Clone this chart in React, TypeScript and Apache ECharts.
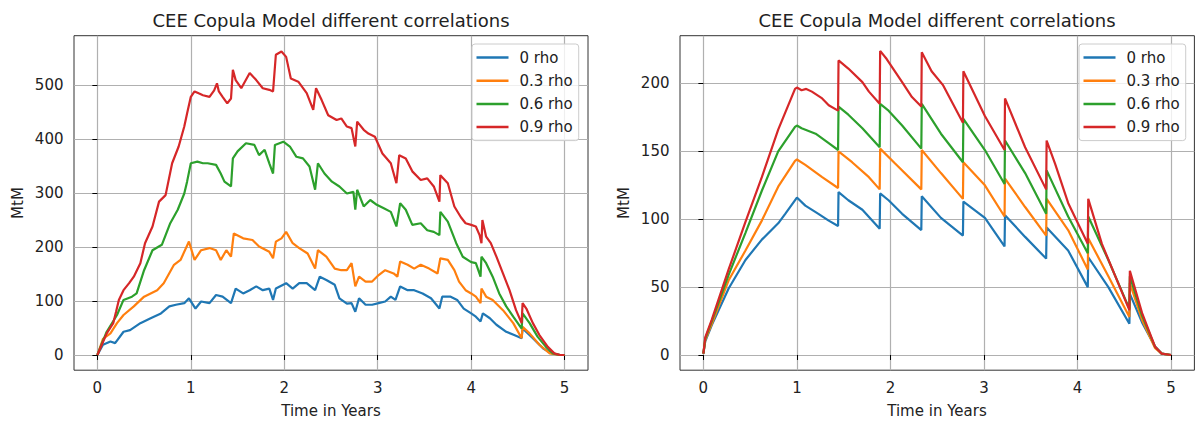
import React, { useEffect, useRef } from "react";
import * as echarts from "echarts";

const FONT = "DejaVu Sans";
const TITLE = "CEE Copula Model different correlations";
const seriesNames = ["0 rho", "0.3 rho", "0.6 rho", "0.9 rho"];
const colors = ["#1f77b4", "#ff7f0e", "#2ca02c", "#d62728"];
const xTicks = [0, 1, 2, 3, 4, 5];
const leftYTicks = [0, 100, 200, 300, 400, 500];
const rightYTicks = [0, 50, 100, 150, 200];

// Left panel (noisy paths)
const left0: number[][] = [[0,0],[0.06,19],[0.14,25],[0.19,22],[0.28,43],[0.35,46],[0.46,59],[0.57,68],[0.68,77],[0.77,90],[0.84,93],[0.93,96],[0.98,105],[1.05,86],[1.11,99],[1.2,96],[1.27,111],[1.34,108],[1.43,96],[1.48,123],[1.56,114],[1.63,120],[1.7,127],[1.77,120],[1.84,123],[1.88,102],[1.91,123],[2.02,133],[2.09,123],[2.16,133],[2.24,133],[2.33,120],[2.38,145],[2.45,139],[2.54,130],[2.59,105],[2.67,95],[2.72,96],[2.76,80],[2.8,105],[2.87,93],[2.94,93],[3.01,96],[3.08,99],[3.14,108],[3.19,102],[3.24,127],[3.32,120],[3.39,120],[3.48,114],[3.57,105],[3.66,86],[3.69,108],[3.78,108],[3.85,102],[3.92,86],[4.0,77],[4.05,71],[4.1,62],[4.125,77],[4.2,68],[4.27,56],[4.375,43],[4.46,37],[4.54,31],[4.55,49],[4.66,31],[4.77,12],[4.86,3],[4.95,0],[5,0]];
const left3: number[][] = [[0,0],[0.06,30],[0.14,40],[0.21,59],[0.28,74],[0.39,90],[0.5,108],[0.64,120],[0.71,133],[0.82,167],[0.89,176],[0.98,210],[1.04,176],[1.11,194],[1.2,198],[1.27,194],[1.32,176],[1.38,194],[1.43,182],[1.46,225],[1.56,216],[1.66,213],[1.73,201],[1.84,191],[1.88,179],[1.91,210],[1.97,216],[2.02,228],[2.09,207],[2.16,198],[2.25,188],[2.33,160],[2.36,194],[2.45,182],[2.54,160],[2.61,157],[2.67,157],[2.72,170],[2.76,127],[2.8,145],[2.87,136],[2.94,136],[3.01,148],[3.08,157],[3.17,151],[3.21,145],[3.24,173],[3.32,167],[3.39,160],[3.46,167],[3.55,160],[3.64,151],[3.67,179],[3.75,176],[3.82,157],[3.87,136],[3.94,120],[4.0,114],[4.05,108],[4.1,96],[4.11,123],[4.16,108],[4.23,102],[4.34,83],[4.45,59],[4.54,31],[4.55,52],[4.625,40],[4.73,19],[4.84,3],[4.95,0],[5,0]];
const left6: number[][] = [[0,0],[0.05,22],[0.1,43],[0.21,74],[0.28,102],[0.37,108],[0.42,114],[0.5,157],[0.59,194],[0.69,204],[0.78,244],[0.86,269],[0.93,299],[0.96,321],[1.0,355],[1.07,358],[1.13,355],[1.18,355],[1.27,352],[1.32,336],[1.36,321],[1.43,312],[1.45,364],[1.5,377],[1.59,392],[1.68,389],[1.73,370],[1.79,380],[1.84,355],[1.88,336],[1.9,389],[1.99,395],[2.06,386],[2.13,367],[2.2,364],[2.27,349],[2.33,306],[2.36,355],[2.43,336],[2.51,321],[2.59,312],[2.67,299],[2.74,302],[2.76,269],[2.78,306],[2.85,275],[2.92,287],[2.99,278],[3.06,272],[3.14,265],[3.2,238],[3.24,281],[3.3,269],[3.37,241],[3.46,244],[3.53,231],[3.6,228],[3.66,222],[3.67,265],[3.75,247],[3.84,207],[3.91,182],[4.0,172],[4.05,170],[4.1,145],[4.11,182],[4.16,170],[4.23,145],[4.3,114],[4.375,90],[4.45,71],[4.54,49],[4.55,77],[4.625,59],[4.71,34],[4.8,15],[4.875,3],[4.95,0],[5,0]];
const left9: number[][] = [[0,0],[0.05,20],[0.1,40],[0.17,59],[0.2,80],[0.23,102],[0.28,120],[0.34,133],[0.39,145],[0.46,170],[0.51,207],[0.59,238],[0.66,284],[0.73,296],[0.8,355],[0.87,386],[0.93,423],[0.96,447],[1.0,478],[1.04,488],[1.09,484],[1.13,481],[1.2,478],[1.25,490],[1.28,503],[1.3,488],[1.34,478],[1.39,466],[1.43,475],[1.45,528],[1.48,509],[1.54,494],[1.63,522],[1.7,509],[1.77,494],[1.84,491],[1.88,488],[1.91,556],[1.97,562],[2.02,552],[2.07,512],[2.15,506],[2.24,485],[2.31,454],[2.34,494],[2.4,472],[2.47,444],[2.56,435],[2.61,438],[2.67,423],[2.72,420],[2.76,386],[2.78,432],[2.85,417],[2.9,410],[2.97,404],[3.05,373],[3.14,355],[3.2,318],[3.23,370],[3.3,364],[3.37,340],[3.46,324],[3.53,327],[3.6,312],[3.66,284],[3.67,333],[3.75,318],[3.82,275],[3.89,255],[3.94,244],[4.0,241],[4.05,238],[4.09,222],[4.11,207],[4.12,250],[4.16,219],[4.21,207],[4.27,182],[4.34,151],[4.41,120],[4.48,83],[4.54,59],[4.55,96],[4.59,86],[4.66,59],[4.73,37],[4.82,15],[4.89,3],[4.95,0],[5,0]];

// Right panel (sawtooth paths)
const right0: number[][] = [[0,1],[0.02,10],[0.09,22],[0.27,49],[0.45,70],[0.625,85],[0.8,97],[0.875,104],[1.0,116],[1.09,110],[1.23,104],[1.34,99],[1.44,95],[1.445,120],[1.55,114],[1.7,107],[1.885,93],[1.89,119],[1.98,114],[2.125,104],[2.33,92],[2.335,117],[2.54,101],[2.775,88],[2.78,113],[3.01,101],[3.22,80],[3.225,103],[3.44,87],[3.665,71],[3.67,94],[3.9,77],[4.11,50],[4.115,72],[4.33,50],[4.555,23],[4.56,45],[4.69,24],[4.83,6],[4.9,1],[5,0]];
const right3: number[][] = [[0,1],[0.02,11],[0.09,23],[0.27,55],[0.45,77],[0.625,99],[0.8,124],[0.98,143],[1.0,144],[1.09,140],[1.27,131],[1.44,123],[1.445,150],[1.59,142],[1.77,131],[1.885,122],[1.89,152],[2.05,141],[2.33,122],[2.335,151],[2.54,134],[2.775,115],[2.78,142],[3.01,125],[3.22,102],[3.225,130],[3.44,109],[3.665,88],[3.67,115],[3.9,92],[4.11,63],[4.115,86],[4.33,58],[4.555,28],[4.56,53],[4.69,26],[4.83,5],[4.9,1],[5,0]];
const right6: number[][] = [[0,1],[0.02,12],[0.09,25],[0.27,59],[0.45,90],[0.625,121],[0.8,150],[0.98,168],[1.0,169],[1.05,167],[1.2,163],[1.34,156],[1.44,151],[1.445,183],[1.55,177],[1.7,167],[1.885,153],[1.89,185],[1.98,180],[2.125,169],[2.33,152],[2.335,185],[2.54,163],[2.775,142],[2.78,174],[3.01,151],[3.22,126],[3.225,158],[3.44,134],[3.665,104],[3.67,136],[3.9,102],[4.11,75],[4.115,102],[4.33,70],[4.555,34],[4.56,58],[4.69,29],[4.83,6],[4.9,1],[5,0]];
const right9: number[][] = [[0,1],[0.02,13],[0.09,26],[0.27,63],[0.45,98],[0.625,131],[0.8,166],[0.98,196],[1.0,197],[1.05,195],[1.1,196],[1.16,194],[1.27,189],[1.34,184],[1.44,180],[1.445,217],[1.55,211],[1.7,201],[1.77,194],[1.885,185],[1.89,224],[1.96,218],[2.125,201],[2.23,190],[2.33,183],[2.335,223],[2.44,209],[2.56,199],[2.775,171],[2.78,209],[3.01,176],[3.22,151],[3.225,189],[3.44,153],[3.665,122],[3.67,158],[3.76,141],[3.9,112],[4.11,82],[4.115,115],[4.26,82],[4.555,33],[4.56,62],[4.69,31],[4.83,6],[4.9,1],[5,0]];

const leftSeries = [left0, left3, left6, left9];
const rightSeries = [right0, right3, right6, right9];

const GRID_TOP = 35.7;
const GRID_H = 334.5;

function xAxis(gridIndex: number) {
  return {
    type: "value", gridIndex, min: -0.25, max: 5.25,
    axisLine: { show: false },
    axisTick: { show: true, customValues: xTicks, length: 5, lineStyle: { color: "#000", width: 1 } },
    axisLabel: { customValues: xTicks, margin: 10, fontSize: 15, color: "#222", fontFamily: FONT },
    splitLine: { show: true, lineStyle: { color: "#b0b0b0", width: 1.2 } },
  };
}
function yAxis(gridIndex: number, min: number, max: number, ticks: number[]) {
  return {
    type: "value", gridIndex, min, max,
    axisLine: { show: false },
    axisTick: { show: true, customValues: ticks, length: 5, lineStyle: { color: "#000", width: 1 } },
    axisLabel: { customValues: ticks, margin: 10.5, fontSize: 15, color: "#222", fontFamily: FONT },
    splitLine: { show: true, lineStyle: { color: "#b0b0b0", width: 1.2 } },
  };
}
function legend(left: number) {
  return {
    left, top: 44, orient: "vertical", data: seriesNames, icon: "rect",
    itemWidth: 32, itemHeight: 2.5, itemGap: 8.2, padding: [6, 6, 6, 4.5],
    backgroundColor: "rgba(255,255,255,0.8)", borderColor: "#cccccc", borderWidth: 1, borderRadius: 3,
    textStyle: { fontSize: 15, color: "#222", fontFamily: FONT, lineHeight: 15, padding: [0, 0, 0, 6] },
  };
}

export default function App() {
  const ref = useRef<HTMLDivElement>(null);
  useEffect(() => {
    if (!ref.current) return;
    const chart = echarts.init(ref.current, undefined, { renderer: "svg" });
    const series: any[] = [];
    [leftSeries, rightSeries].forEach((group, gi) => {
      group.forEach((data, i) => {
        series.push({
          type: "line", name: seriesNames[i], xAxisIndex: gi, yAxisIndex: gi,
          data, showSymbol: false, symbol: "none",
          lineStyle: { width: 2.2, color: colors[i] }, itemStyle: { color: colors[i] },
          z: 3,
        });
      });
    });
    const textEl = (text: string, x: number, y: number, size: number, rotation = 0) => ({
      type: "text", x, y, rotation, z: 10,
      style: { text, fontSize: size, fontFamily: FONT, fill: "#222", align: "center", verticalAlign: "middle" },
    });
    chart.setOption({
      animation: false,
      backgroundColor: "#fff",
      grid: [
        { left: 74, width: 514, top: GRID_TOP, height: GRID_H, show: true, borderColor: "#333", borderWidth: 1, backgroundColor: "transparent" },
        { left: 680, width: 514.4, top: GRID_TOP, height: GRID_H, show: true, borderColor: "#333", borderWidth: 1, backgroundColor: "transparent" },
      ],
      xAxis: [xAxis(0), xAxis(1)],
      yAxis: [yAxis(0, -28.15, 591.2, leftYTicks), yAxis(1, -11.2, 235.2, rightYTicks)],
      legend: [legend(472), legend(1079)],
      graphic: [
        textEl(TITLE, 331, 20.5, 18),
        textEl(TITLE, 937, 20.5, 18),
        textEl("Time in Years", 331, 410.5, 15),
        textEl("Time in Years", 937, 410.5, 15),
        textEl("MtM", 17.5, 203, 15, Math.PI / 2),
        textEl("MtM", 623.5, 203, 15, Math.PI / 2),
      ],
      series,
    });
    return () => chart.dispose();
  }, []);
  return <div ref={ref} style={{ position: "fixed", left: 0, top: 0, width: 1198, height: 421 }} />;
}
